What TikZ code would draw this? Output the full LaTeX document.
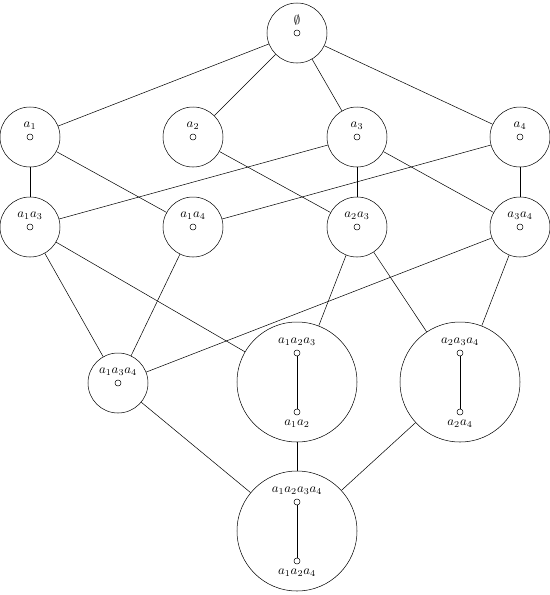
\documentclass[tikz,border=0pt]{standalone}
\usepackage{amsmath}
\usepackage{amssymb}
\usepackage{tikz}
\definecolor{black}{RGB}{0,0,0}

\begin{document}
\begin{tikzpicture}[x=0.78pt,y=-0.78pt,
	set/.style={circle,draw=black,minimum size=46.8pt,inner sep=0pt},
	bigset/.style={circle,draw=black,minimum size=93.6pt,inner sep=0pt},
	elem/.style={circle,draw=black,fill=white,minimum size=4.7pt,inner sep=0pt}]
	\useasboundingbox (0,0) rectangle (550,595);

	% the sets
	\node[set] (n0) at (297,33) {};
	\node[set] (n1) at (30,137) {};
	\node[set] (n2) at (193,137) {};
	\node[set] (n3) at (357,137) {};
	\node[set] (n4) at (520,137) {};
	\node[set] (n13) at (30,227) {};
	\node[set] (n14) at (193,227) {};
	\node[set] (n23) at (357,227) {};
	\node[set] (n34) at (520,227) {};
	\node[set] (n134) at (118,383) {};
	\node[bigset] (n123) at (297,382) {};
	\node[bigset] (n234) at (460,382) {};
	\node[bigset] (n1234) at (297,531) {};

	% the elements
	\node[elem,label=above:{$\emptyset$}] (p0) at (n0) {};
	\node[elem,label=above:{$a_1$}] (p1) at (n1) {};
	\node[elem,label=above:{$a_2$}] (p2) at (n2) {};
	\node[elem,label=above:{$a_3$}] (p3) at (n3) {};
	\node[elem,label=above:{$a_4$}] (p4) at (n4) {};
	\node[elem,label=above:{$a_1a_3$}] (p13) at (n13) {};
	\node[elem,label=above:{$a_1a_4$}] (p14) at (n14) {};
	\node[elem,label=above:{$a_2a_3$}] (p23) at (n23) {};
	\node[elem,label=above:{$a_3a_4$}] (p34) at (n34) {};
	\node[elem,label=above:{$a_1a_3a_4$}] (p134) at (n134) {};
	\node[elem,label=above:{$a_1a_2a_3$}] (p123) at (297,353) {};
	\node[elem,label=below:{$a_1a_2$}] (p12) at (297,412) {};
	\node[elem,label=above:{$a_2a_3a_4$}] (p234) at (460,353) {};
	\node[elem,label=below:{$a_2a_4$}] (p24) at (460,412) {};
	\node[elem,label=above:{$a_1a_2a_3a_4$}] (p1234) at (297,502) {};
	\node[elem,label=below:{$a_1a_2a_4$}] (p124) at (297,561) {};

	\foreach \x/\y in {p123/p12,p234/p24,p1234/p124}
		\draw[black] (\x) -- (\y);

	\foreach \x/\y in {n0/n1,n0/n2,n0/n3,n0/n4,n1/n13,n1/n14,n2/n23,n3/n13,n3/n23,n3/n34,n4/n14,n4/n34,n13/n134,n13/n123,n14/n134,n23/n123,n23/n234,n34/n134,n34/n234,n134/n1234,n123/n1234,n234/n1234}
		\draw[black] (\x) -- (\y);
\end{tikzpicture}
\end{document}
